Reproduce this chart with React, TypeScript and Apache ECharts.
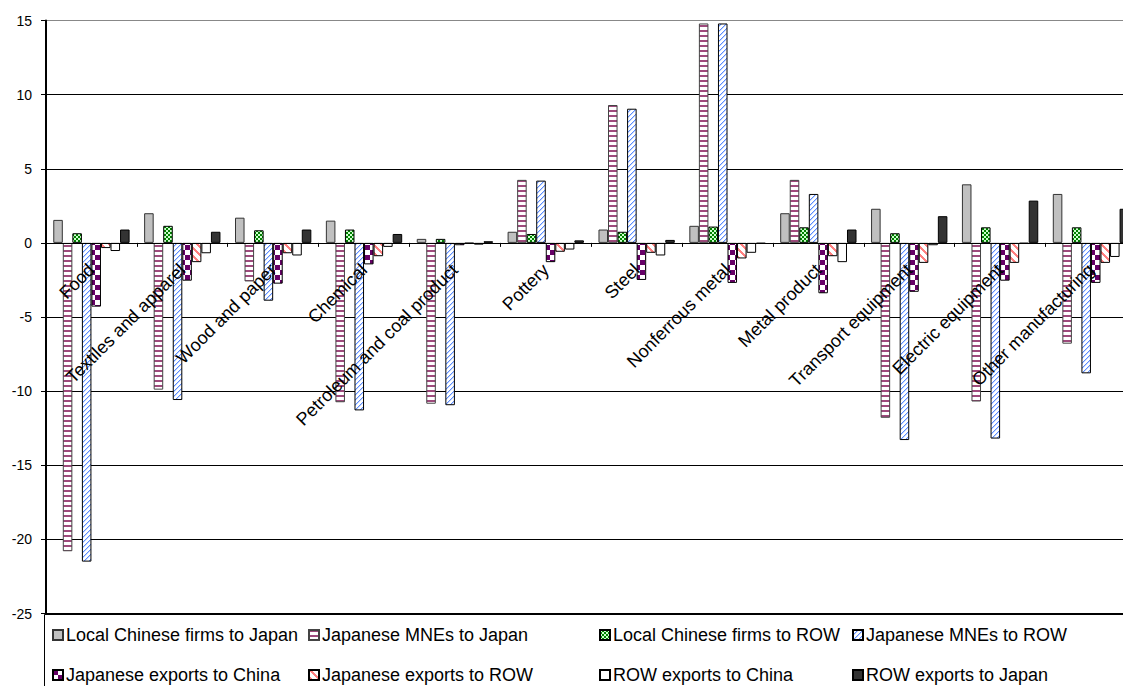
import React, { useEffect, useRef } from "react";
import * as echarts from "echarts";

// Industry categories on the x axis
const categories = [
  "Food",
  "Textiles and apparel",
  "Wood and paper",
  "Chemical",
  "Petroleum and coal product",
  "Pottery",
  "Steel",
  "Nonferrous metal",
  "Metal product",
  "Transport equipment",
  "Electric equipment",
  "Other manufacturing",
];

// Series names (legend order)
const seriesNames = [
  "Local Chinese firms to Japan",
  "Japanese MNEs to Japan",
  "Local Chinese firms to ROW",
  "Japanese MNEs to ROW",
  "Japanese exports to China",
  "Japanese exports to ROW",
  "ROW exports to China",
  "ROW exports to Japan",
];

// Values per series, one per category
const localToJapan = [1.55, 2.0, 1.7, 1.5, 0.27, 0.75, 0.9, 1.15, 2.0, 2.3, 3.95, 3.3];
const mneToJapan = [-20.8, -9.9, -2.6, -10.75, -10.85, 4.25, 9.3, 14.8, 4.25, -11.8, -10.7, -6.8];
const localToRow = [0.65, 1.15, 0.85, 0.9, 0.27, 0.6, 0.75, 1.1, 1.05, 0.65, 1.05, 1.05];
const mneToRow = [-21.5, -10.6, -3.9, -11.3, -10.95, 4.2, 9.05, 14.8, 3.3, -13.3, -13.2, -8.8];
const jpToChina = [-4.3, -2.55, -2.75, -1.45, -0.16, -1.3, -2.5, -2.7, -3.4, -3.3, -2.55, -2.7];
const jpToRow = [-0.35, -1.3, -0.7, -0.9, -0.04, -0.6, -0.67, -1.05, -0.9, -1.35, -1.35, -1.35];
const rowToChina = [-0.55, -0.7, -0.85, -0.27, -0.12, -0.45, -0.85, -0.67, -1.3, -0.16, -0.05, -0.95];
const rowToJapan = [0.9, 0.75, 0.9, 0.6, 0.11, 0.17, 0.2, -0.05, 0.9, 1.8, 2.85, 2.3];

const seriesValues = [
  localToJapan,
  mneToJapan,
  localToRow,
  mneToRow,
  jpToChina,
  jpToRow,
  rowToChina,
  rowToJapan,
];

// Y axis range
const yMin = -25;
const yMax = 15;
const yStep = 5;

const FONT = "'Liberation Sans', Arial, Helvetica, sans-serif";

// Plot area geometry (px)
const GRID_LEFT = 46;
const GRID_TOP = 20.5;
const GRID_BOTTOM = 72.5;
const GRID_RIGHT = 23.6;
const CHART_W = 1160;
const CHART_H = 686;

// Legend grid: 4 columns x 2 rows
const legendLefts = [52, 308, 599, 852];
const legendTops = [626, 666];

type Painter = (x: number, y: number) => string | null;

// Small repeating bitmap tile used as a bar fill
function tilePattern(w: number, h: number, bg: string, paint: Painter) {
  const c = document.createElement("canvas");
  c.width = w;
  c.height = h;
  const ctx = c.getContext("2d")!;
  ctx.fillStyle = bg;
  ctx.fillRect(0, 0, w, h);
  for (let y = 0; y < h; y++) {
    for (let x = 0; x < w; x++) {
      const col = paint(x, y);
      if (col) {
        ctx.fillStyle = col;
        ctx.fillRect(x, y, 1, 1);
      }
    }
  }
  return { image: c, repeat: "repeat" };
}

export default function App() {
  const ref = useRef<HTMLDivElement>(null);

  useEffect(() => {
    if (!ref.current) return;
    const chart = echarts.init(ref.current, undefined, { renderer: "svg" });

    // Horizontal stripes
    const pinkStripes = tilePattern(4, 5, "#ffffff", (_x, y) => (y < 2 ? "#9e4a7c" : null));
    // Small checkerboard
    const greenChecker = tilePattern(4, 4, "#008000", (x, y) =>
      (Math.floor(x / 2) + Math.floor(y / 2)) % 2 === 0 ? "#ccffcc" : null
    );
    // Upward diagonal lines
    const blueDiagonal = tilePattern(5, 5, "#ffffff", (x, y) => {
      const k = (x + y) % 5;
      if (k === 4) return "#5b8cff";
      if (k === 0) return "#c4d6ff";
      return null;
    });
    // Large checkerboard
    const purpleChecker = tilePattern(10, 10, "#ffffff", (x, y) =>
      (Math.floor(x / 5) + Math.floor(y / 5)) % 2 === 0 ? "#660066" : null
    );
    // Wide downward diagonal
    const salmonDiagonal = tilePattern(8, 8, "#ffffff", (x, y) =>
      (((x - y) % 8) + 8) % 8 < 3 ? "#ff8080" : null
    );

    const seriesStyles: any[] = [
      { color: "#c0c0c0", borderColor: "#333333", borderWidth: 1 },
      { color: pinkStripes, borderColor: "#444444", borderWidth: 1 },
      { color: greenChecker, borderColor: "#000000", borderWidth: 1 },
      { color: blueDiagonal, borderColor: "#000000", borderWidth: 1 },
      { color: purpleChecker, borderColor: "#000000", borderWidth: 1 },
      { color: salmonDiagonal, borderColor: "#000000", borderWidth: 1 },
      { color: "#ffffff", borderColor: "#000000", borderWidth: 1 },
      { color: "#333333", borderColor: "#000000", borderWidth: 1 },
    ];

    const splitColors: string[] = [];
    for (let v = yMin; v <= yMax; v += yStep) {
      splitColors.push(v === yMax ? "#888888" : "#000000");
    }

    // Move the category axis up to the zero line
    const plotH = CHART_H - GRID_TOP - GRID_BOTTOM;
    const zeroFromBottom = (plotH * (0 - yMin)) / (yMax - yMin);

    const legends = seriesNames.map((name, i) => ({
      data: [name],
      left: legendLefts[i % 4],
      top: legendTops[Math.floor(i / 4)],
      orient: "horizontal",
      icon: "rect",
      itemWidth: 10,
      itemHeight: 10,
      itemGap: 0,
      padding: 0,
      selectedMode: false,
      textStyle: { fontSize: 18, color: "#000", fontFamily: FONT, padding: [0, 0, 0, -2] },
    }));

    chart.setOption({
      animation: false,
      backgroundColor: "#ffffff",
      textStyle: { fontFamily: FONT },
      grid: {
        left: GRID_LEFT,
        top: GRID_TOP,
        right: GRID_RIGHT,
        bottom: GRID_BOTTOM,
        containLabel: false,
        outerBoundsMode: "none",
      },
      legend: legends,
      xAxis: {
        type: "category",
        data: categories,
        z: 10,
        position: "bottom",
        offset: -zeroFromBottom,
        axisLine: { onZero: false, lineStyle: { color: "#000", width: 1 } },
        axisTick: { show: true, length: 4, lineStyle: { color: "#000" } },
        axisLabel: {
          rotate: 45,
          interval: 0,
          fontSize: 18,
          color: "#000",
          fontFamily: FONT,
          margin: 24,
        },
        splitLine: { show: false },
      },
      yAxis: {
        type: "value",
        min: yMin,
        max: yMax,
        interval: yStep,
        axisLine: { show: true, onZero: false, lineStyle: { color: "#000", width: 2 } },
        axisTick: { show: true, length: 5, lineStyle: { color: "#000" } },
        axisLabel: { fontSize: 14, color: "#000", fontFamily: FONT, margin: 14 },
        splitLine: { show: true, lineStyle: { color: splitColors, width: 1 } },
      },
      graphic: [
        {
          type: "rect",
          shape: { x: 44.5, y: 614.5, width: 1200, height: 200 },
          style: { fill: "transparent", stroke: "#000", lineWidth: 1 },
          silent: true,
          z: 1,
        },
      ],
      series: seriesNames.map((name, i) => ({
        name,
        type: "bar",
        data: seriesValues[i],
        barGap: "0%",
        barCategoryGap: "16%",
        itemStyle: seriesStyles[i],
        emphasis: { disabled: true },
      })),
    });

    return () => chart.dispose();
  }, []);

  return (
    <div
      style={{
        position: "fixed",
        left: 0,
        top: 0,
        width: 1123,
        height: 686,
        overflow: "hidden",
        background: "#fff",
      }}
    >
      <div ref={ref} style={{ width: CHART_W, height: CHART_H }} />
    </div>
  );
}
